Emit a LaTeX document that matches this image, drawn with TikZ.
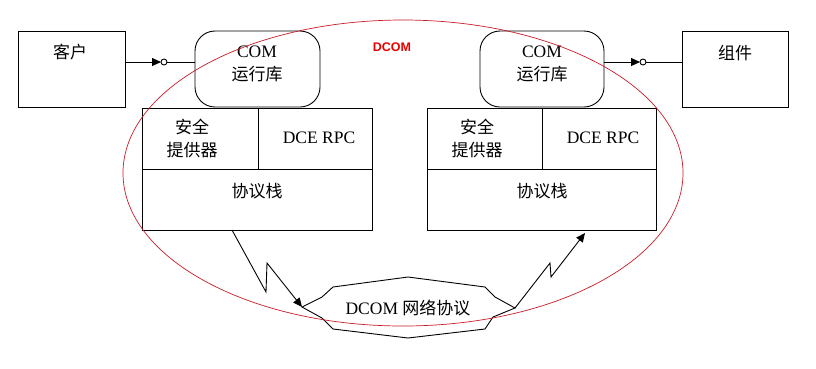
\documentclass[tikz,border=0pt]{standalone}
\usepackage{fontspec}
\setmainfont{Liberation Serif}
\newfontfamily\cjk{Noto Sans CJK SC}
\newfontfamily\lblfont{Liberation Sans}
\usetikzlibrary{arrows.meta}
\definecolor{ellred}{RGB}{200,30,40}
\definecolor{lblred}{RGB}{235,0,0}
\begin{document}
\begin{tikzpicture}[x=1pt,y=-1pt,line width=0.9pt,
  box/.style={draw,minimum width=#1,inner sep=0pt,outer sep=0pt},
  txt/.style={inner sep=0pt,align=center,font=\fontsize{17.5}{22.5}\selectfont},
  tip/.style={-{Triangle[length=9pt,width=8pt]}},
  plug/.style={draw,circle,minimum size=6pt,inner sep=0pt,outer sep=0pt}]
\useasboundingbox (0,0) rectangle (816,368);
\fill[white] (0,0) rectangle (816,368);
% outer boxes
\node[box=107pt,minimum height=76pt,anchor=north west] (client) at (18,31) {};
\node[box=106pt,minimum height=76pt,anchor=north west] (comp) at (682,31) {};
\node[box=125pt,minimum height=76pt,anchor=north west,rounded corners=20pt] (comL) at (195,31) {};
\node[box=124pt,minimum height=76pt,anchor=north west,rounded corners=20pt] (comR) at (480,31) {};
% left stack
\node[box=116pt,minimum height=61pt,anchor=north west] (secL) at (142,108) {};
\node[box=114pt,minimum height=61pt,anchor=north west] (rpcL) at (258,108) {};
\node[box=230pt,minimum height=61pt,anchor=north west] (protL) at (142,169) {};
% right stack
\node[box=115pt,minimum height=61pt,anchor=north west] (secR) at (427,108) {};
\node[box=114pt,minimum height=61pt,anchor=north west] (rpcR) at (542,108) {};
\node[box=229pt,minimum height=61pt,anchor=north west] (protR) at (427,169) {};
% texts
\newcommand\zh[1]{{\cjk\fontsize{17}{22.5}\selectfont #1}}
\node[txt] (tclient) at (70,52) {\zh{客户}};
\node[txt] (tcomp) at (735,53) {\zh{组件}};
\node[txt] (tcomL) at (257,64) {COM\\\zh{运行库}};
\node[txt] (tcomR) at (542,64) {COM\\\zh{运行库}};
\node[txt] (tsecL) at (192,138.5) {\zh{安全}\\\zh{提供器}};
\node[txt] (tsecR) at (477,138.5) {\zh{安全}\\\zh{提供器}};
\node[txt] (trpcL) at (319,138) {DCE RPC};
\node[txt] (trpcR) at (603,138) {DCE RPC};
\node[txt] (tprotL) at (257,191) {\zh{协议栈}};
\node[txt] (tprotR) at (542,191) {\zh{协议栈}};
\node[inner sep=0pt,text=lblred,font=\lblfont\bfseries\fontsize{12.5}{14}\selectfont] (dcom) at (392,47) {DCOM};
% interface connectors
\node[plug] (plugL) at (164,62) {};
\node[plug] (plugR) at (643,62) {};
\draw[tip] (client.east |- plugL) -- (plugL.west);
\draw (plugL.east) -- (comL.west |- plugL);
\draw[tip] (comR.east |- plugR) -- (plugR.west);
\draw (plugR.east) -- (comp.west |- plugR);
% network cloud
\coordinate (cloudL) at (302,307);
\coordinate (cloudR) at (515,308);
\draw (cloudL) -- (322,297) -- (333,287) -- (408,277) -- (485,287) -- (495,297) -- (cloudR)
  -- (493,317) -- (485,329) -- (408,338) -- (333,329) -- (322,318) -- cycle;
\node[txt] (tnet) at (408,308) {DCOM \zh{网络协议}};
% lightning arrows
\coordinate (startL) at (232,230);
\coordinate (endR) at (585,233);
\draw[tip] (startL) -- (266,292) -- (267,263) -- (cloudL);
\draw[tip] (cloudR) -- (550,263) -- (551,277) -- (endR);
% DCOM ellipse
\draw[ellred,line width=0.7pt] (403,173) ellipse [x radius=280, y radius=153];
\end{tikzpicture}
\end{document}
